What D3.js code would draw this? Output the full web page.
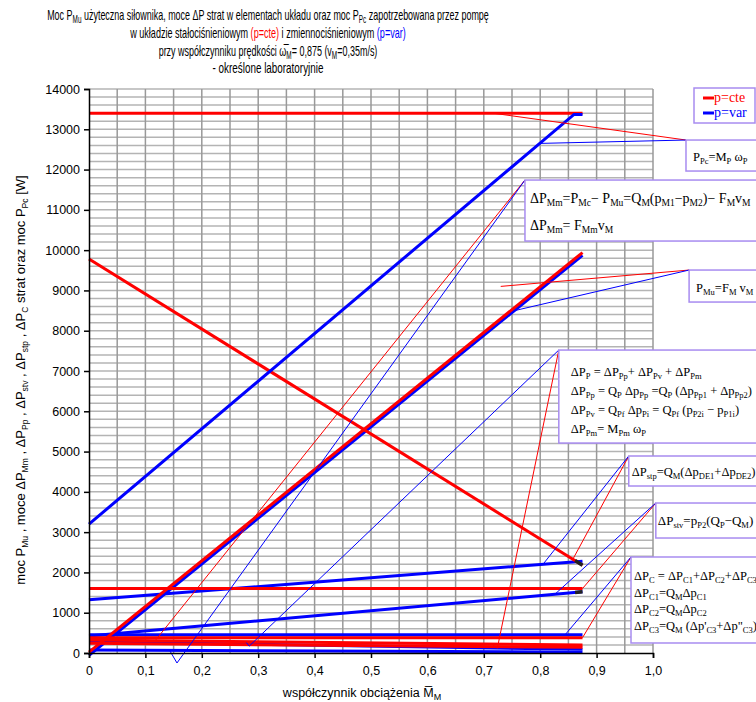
<!DOCTYPE html>
<html>
<head>
<meta charset="utf-8">
<style>
body { margin: 0; background: white; }
svg { display: block; }
.title { font-family: "Liberation Sans", Arial, sans-serif; font-size: 14px; fill: #000; }
.tick text { font-family: "Liberation Sans", Arial, sans-serif; font-size: 12.5px; fill: #000; }
.axlabel { font-family: "Liberation Sans", Arial, sans-serif; font-size: 12.5px; fill: #000; }
.eq { font-family: "Liberation Serif", "Times New Roman", serif; font-size: 12.5px; fill: #000; }
</style>
</head>
<body>
<script src="https://cdnjs.cloudflare.com/ajax/libs/d3/7.8.5/d3.min.js"></script>
<script>
// load factor (x) for the measured range
var loadX = [0, 0.875]
var xTickValues = [0, 0.1, 0.2, 0.3, 0.4, 0.5, 0.6, 0.7, 0.8, 0.9, 1.0]
var yTickValues = d3.range(0, 14001, 1000)

// p=cte (red) series, W
var ppcCte = [13400, 13400]
var pmuCte = [20, 9940]
var stpCte = [9780, 2180]
var stvCte = [1600, 1600]
var cCte = [380, 380]
var mmCte = [320, 200]
var pCte = [240, 140]

// p=var (blue) series, W
var ppcVarX = [0, 0.86, 0.875]
var ppcVar = [3200, 13370, 13370]
var pmuVar = [-60, 9870]
var stpVar = [1320, 2280]
var stvVar = [420, 1520]
var cVar = [450, 450]
var pVar = [280, 90]
var mmVar = [75, 20]

// leader lines [x, W] from the curves to the formula boxes (red, blue)
var leadPpc = [[[0.716, 13400], [1.0585, 12733]], [[0.801, 12650], [1.0585, 12733]]]
var leadMm = [[[0.117, 300], [0.773, 11740]], [[0.1436, 50], [0.156, -248], [0.773, 11740]]]
var leadPmu = [[[0.73, 9100], [1.064, 9506]], [[0.755, 8500], [1.064, 9506]]]
var leadP = [[[0.716, 200], [0.724, 120], [0.833, 7520]], [[0.279, 260], [0.284, 170], [0.833, 7520]]]
var leadStp = [[[0.858, 2330], [0.957, 4890]], [[0.805, 2203], [0.957, 4890]]]
var leadStv = [[[0.875, 1600], [1.005, 3723]], [[0.826, 1458], [1.005, 3723]]]
var leadC = [[[0.875, 380], [0.961, 2383]], [[0.844, 450], [0.961, 2383]]]

var width = 756, height = 702

var svg = d3.select("body").append("svg")
  .attr("width", width)
  .attr("height", height)

var x = d3.scaleLinear().domain([0, 1]).range([89, 653])
var y = d3.scaleLinear().domain([0, 14000]).range([653, 89])

// grid
svg.append("g").selectAll("line")
  .data(d3.range(200, 14001, 200))
  .enter().append("line")
  .attr("x1", x(0)).attr("x2", x(1))
  .attr("y1", function(d) { return y(d) })
  .attr("y2", function(d) { return y(d) })
  .attr("stroke", "#b4b4b4")
  .attr("stroke-width", 1.5)

svg.append("g").selectAll("line")
  .data(d3.range(1, 21).map(function(i) { return i * 0.05 }))
  .enter().append("line")
  .attr("x1", function(d) { return x(d) })
  .attr("x2", function(d) { return x(d) })
  .attr("y1", y(0)).attr("y2", y(14000))
  .attr("stroke", "#999")
  .attr("stroke-width", 1.5)

var line = d3.line()
  .x(function(d) { return x(d[0]) })
  .y(function(d) { return y(d[1]) })

function zipXY(xs, ys) {
  return xs.map(function(v, i) { return [v, ys[i]] })
}

var redSeries = [ppcCte, pmuCte, stpCte, stvCte, cCte, mmCte, pCte]
var blueSeries = [pmuVar, stpVar, stvVar, cVar, pVar, mmVar]

var curves = svg.append("g")
blueSeries.forEach(function(s) {
  curves.append("path").attr("d", line(zipXY(loadX, s)))
    .attr("fill", "none").attr("stroke", "#0000ff").attr("stroke-width", 3)
})
redSeries.forEach(function(s) {
  curves.append("path").attr("d", line(zipXY(loadX, s)))
    .attr("fill", "none").attr("stroke", "#ff0000").attr("stroke-width", 3)
})
curves.append("path").attr("d", line(zipXY(ppcVarX, ppcVar)))
  .attr("fill", "none").attr("stroke", "#0000ff").attr("stroke-width", 3)

// small dark caps at the last point of two series
;[stpCte, stvVar].forEach(function(s) {
  var t = 0.985
  var a = [loadX[0] + (loadX[1] - loadX[0]) * t, s[0] + (s[1] - s[0]) * t]
  curves.append("path").attr("d", line([a, [loadX[1], s[1]]]))
    .attr("stroke", "#222").attr("stroke-width", 3.5)
})

// leaders: first of each pair is red, second blue
var leaderSets = [leadPpc, leadMm, leadPmu, leadP, leadStp, leadStv, leadC]
var leaders = svg.append("g")
leaderSets.forEach(function(pair) {
  leaders.append("path").attr("d", line(pair[0]))
    .attr("fill", "none").attr("stroke", "#ff0000").attr("stroke-width", 1)
  leaders.append("path").attr("d", line(pair[1]))
    .attr("fill", "none").attr("stroke", "#0000ff").attr("stroke-width", 1)
})

// axes
svg.append("g")
  .attr("transform", "translate(0," + y(0) + ")")
  .call(d3.axisBottom(x).tickValues(xTickValues).tickSize(5).tickPadding(8)
    .tickFormat(function(d) { return d === 0 ? "0" : d3.format(".1f")(d).replace(".", ",") }))
  .call(function(g) { g.selectAll("line, path").attr("stroke", "#000").attr("stroke-width", 1.5) })

svg.append("g")
  .attr("transform", "translate(" + x(0) + ",0)")
  .call(d3.axisLeft(y).tickValues(yTickValues).tickSize(5).tickPadding(4)
    .tickFormat(d3.format("d")))
  .call(function(g) { g.selectAll("line, path").attr("stroke", "#000").attr("stroke-width", 1.5) })

// rich text: "_{...}" marks a subscript
function rich(sel, str, sub) {
  var parts = str.split(/(_\{[^}]*\})/)
  var lowered = false
  parts.forEach(function(p) {
    if (!p) return
    if (p[0] === "_") {
      sel.append("tspan").text(p.slice(2, -1))
        .attr("font-size", sub).attr("dy", lowered ? 0 : 3)
      lowered = true
    } else {
      var t = sel.append("tspan").text(p)
      if (lowered) t.attr("dy", -3)
      lowered = false
    }
  })
}

// title, squeezed horizontally like a narrow face
var titleLines = [
  "Moc P_{Mu} użyteczna siłownika, moce ΔP strat w elementach układu oraz moc P_{Pc} zapotrzebowana przez pompę",
  "w układzie stałociśnieniowym ",
  "przy współczynniku prędkości ω\u0305_{M}= 0,875 (v_{M}=0,35m/s)",
  "- określone laboratoryjnie"
]
var tY = [20, 38, 56, 73]
var tWidth = [442, 276, 219, 111]
titleLines.forEach(function(s, i) {
  var t = svg.append("text").attr("class", "title")
    .attr("x", 0).attr("y", 0).attr("text-anchor", "middle")
  rich(t, s, 10)
  if (i === 1) {
    t.append("tspan").text("(p=cte)").attr("fill", "#ff0000")
    t.append("tspan").text(" i  zmiennociśnieniowym ")
    t.append("tspan").text("(p=var)").attr("fill", "#0000ff")
  }
  var k = tWidth[i] / t.node().getComputedTextLength()
  t.attr("transform", "translate(268," + tY[i] + ") scale(" + k + ",1)")
})

// axis titles
var xl = svg.append("text").attr("class", "axlabel")
  .attr("x", 362).attr("y", 697).attr("text-anchor", "middle")
rich(xl, "współczynnik obciążenia M\u0305_{M}", 9)

var yl = svg.append("text").attr("class", "axlabel")
  .attr("transform", "translate(25,380) rotate(-90)").attr("text-anchor", "middle")
  .style("font-size", "13px")
rich(yl, "moc P_{Mu} , moce ΔP_{Mm} , ΔP_{Pp} , ΔP_{stv} , ΔP_{stp} , ΔP_{C} strat oraz moc P_{Pc}     [W]", 8.5)

// formula boxes, anchored at the leader end points
function lastPoint(pts) { return pts[pts.length - 1] }
var boxes = [
  { at: lastPoint(leadPpc[0]), w: 80, h: 31, lines: ["P_{Pc}=M_{P} ω_{P}"], dy: [21], dx: 7, fs: 12.5, sub: 8.5 },
  { at: lastPoint(leadMm[0]), w: 240, h: 61, lines: ["ΔP_{Mm}=P_{Mc}− P_{Mu}=Q_{M}(p_{M1}−p_{M2})− F_{M}v_{M}", "ΔP_{Mm}= F_{Mm}v_{M}"], dy: [23, 50], dx: 5, fs: 14, sub: 9.5 },
  { at: lastPoint(leadPmu[0]), w: 80, h: 32, lines: ["P_{Mu}=F_{M} v_{M}"], dy: [22], dx: 7, fs: 12.5, sub: 8.5 },
  { at: lastPoint(leadP[0]), w: 205, h: 93, lines: ["ΔP_{P}  = ΔP_{Pp}+ ΔP_{Pv} + ΔP_{Pm}", "ΔP_{Pp} = Q_{P} Δp_{Pp} =Q_{P} (Δp_{Pp1} + Δp_{Pp2})", "ΔP_{Pv} = Q_{Pf} Δp_{Pi} = Q_{Pf} (p_{P2i} − p_{P1i})", "ΔP_{Pm}= M_{Pm} ω_{P}"], dy: [26, 45, 64, 83], dx: 12, fs: 12.5, sub: 8.5 },
  { at: lastPoint(leadStp[0]), w: 135, h: 30, lines: ["ΔP_{stp}=Q_{M}(Δp_{DE1}+Δp_{DE2})"], dy: [20], dx: 3, fs: 12.5, sub: 8.5 },
  { at: lastPoint(leadStv[0]), w: 105, h: 35, lines: ["ΔP_{stv}=p_{P2}(Q_{P}−Q_{M})"], dy: [22], dx: 2, fs: 13, sub: 8.5 },
  { at: lastPoint(leadC[0]), w: 130, h: 86, lines: ["ΔP_{C} = ΔP_{C1}+ΔP_{C2}+ΔP_{C3}", "ΔP_{C1}=Q_{M}Δp_{C1}", "ΔP_{C2}=Q_{M}Δp_{C2}", "ΔP_{C3}=Q_{M} (Δp'_{C3}+Δp\"_{C3})"], dy: [23, 40, 56, 73], dx: 3, fs: 12.5, sub: 8.5 }
]

boxes.forEach(function(b) {
  var bx = x(b.at[0]), by = y(b.at[1])
  var g = svg.append("g").attr("transform", "translate(" + bx + "," + by + ")")
  g.append("rect").attr("width", b.w).attr("height", b.h)
    .attr("fill", "white").attr("stroke", "#a88cf0").attr("stroke-width", 1.5)
  b.lines.forEach(function(s, i) {
    var t = g.append("text").attr("class", "eq").attr("x", b.dx).attr("y", b.dy[i])
      .style("font-size", b.fs + "px")
    rich(t, s, b.sub)
  })
})

// legend
var legendItems = ["p=cte", "p=var"]
var legendColors = ["#ff0000", "#0000ff"]
var lg = svg.append("g").attr("transform", "translate(694,88)")
lg.append("rect").attr("width", 61).attr("height", 35)
  .attr("fill", "white").attr("stroke", "#a88cf0").attr("stroke-width", 1.5)
legendItems.forEach(function(d, i) {
  lg.append("line").attr("x1", 9).attr("x2", 20)
    .attr("y1", 10 + i * 15).attr("y2", 10 + i * 15)
    .attr("stroke", legendColors[i]).attr("stroke-width", 3)
  lg.append("text").attr("class", "eq").attr("x", 20).attr("y", 14 + i * 15)
    .style("fill", legendColors[i]).style("font-size", "14px").text(d)
})
</script>
</body>
</html>
